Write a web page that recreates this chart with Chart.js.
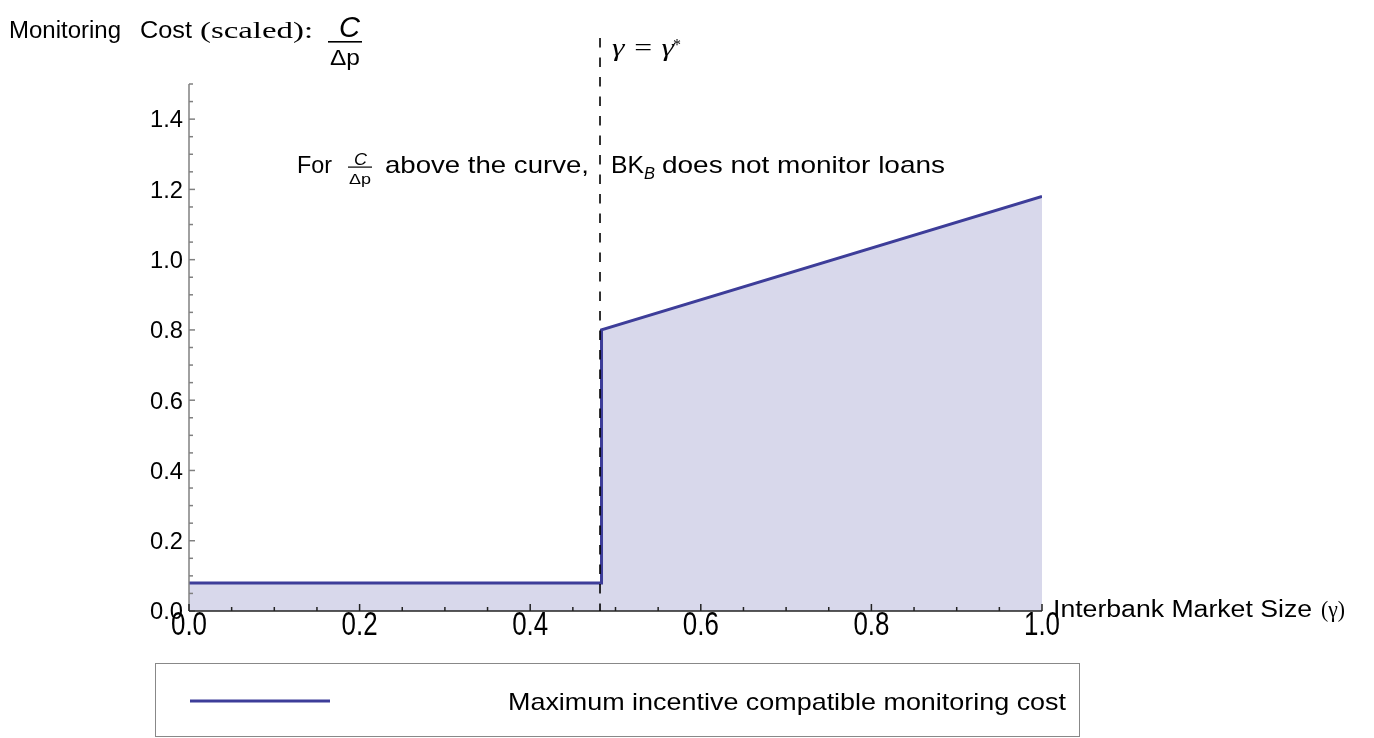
<!DOCTYPE html>
<html>
<head>
<meta charset="utf-8">
<script src="https://cdn.jsdelivr.net/npm/chart.js@4/dist/chart.umd.min.js"></script>
<style>
  body { margin: 0; background: #fff; }
  #wrap { width: 1374px; height: 738px; }
</style>
</head>
<body>
<div id="wrap"><canvas id="myChart" width="1374" height="738"></canvas></div>
<script>
"use strict";

// values
const gammaStar = 0.4836;
const gammaValues = [0, 0.4836, 0.4836, 1.0];
const costValues = [0.08, 0.08, 0.80, 1.18];
const xTickValues = [0, 0.2, 0.4, 0.6, 0.8, 1.0];
const xTickLabels = ["0.0", "0.2", "0.4", "0.6", "0.8", "1.0"];
const yTickValues = [0, 0.2, 0.4, 0.6, 0.8, 1.0, 1.2, 1.4];
const yTickLabels = ["0.0", "0.2", "0.4", "0.6", "0.8", "1.0", "1.2", "1.4"];
const legendLabel = "Maximum incentive compatible monitoring cost";

const SANS = "'Liberation Sans', Arial, sans-serif";
const SERIF = "'Liberation Serif', 'Times New Roman', serif";
const lineColor = "rgb(61,61,153)";
const fillColor = "rgba(61,61,153,0.2)";

// draw text stretched to a given width (Mathematica text is wider than Arial)
function fitText(ctx, text, font, x, baseline, width, sy, align) {
    ctx.save();
    ctx.font = font;
    const w = ctx.measureText(text).width;
    const sx = width ? width / w : 1;
    let ox = 0;
    if (align === "center") ox = -w / 2;
    else if (align === "right") ox = -w;
    ctx.translate(x, baseline);
    ctx.scale(sx, sy || 1);
    ctx.textAlign = "left";
    ctx.textBaseline = "alphabetic";
    ctx.fillStyle = "#000";
    ctx.fillText(text, ox, 0);
    ctx.restore();
}

const points = gammaValues.map((g, i) => ({ x: g, y: costValues[i] }));

const decorations = {
    id: "decorations",
    afterDraw(chart) {
        const ctx = chart.ctx;
        const xs = chart.scales.x;
        const ys = chart.scales.y;
        const x0 = xs.getPixelForValue(0);
        const x1 = xs.getPixelForValue(1);
        const y0 = ys.getPixelForValue(0);
        const yTop = ys.getPixelForValue(1.5);

        ctx.save();
        // y axis
        ctx.strokeStyle = "#808080";
        ctx.lineWidth = 1.5;
        ctx.beginPath();
        ctx.moveTo(x0, y0);
        ctx.lineTo(x0, yTop);
        ctx.stroke();
        for (let k = 0; k <= 30; k++) {
            const v = k * 0.05;
            const py = ys.getPixelForValue(v);
            const len = k % 4 === 0 ? 6 : 4;
            ctx.beginPath();
            ctx.moveTo(x0, py);
            ctx.lineTo(x0 + len, py);
            ctx.stroke();
        }
        // x axis
        ctx.strokeStyle = "#222";
        ctx.beginPath();
        ctx.moveTo(x0, y0);
        ctx.lineTo(x1, y0);
        ctx.stroke();
        for (let k = 0; k <= 20; k++) {
            const v = k * 0.05;
            const px = xs.getPixelForValue(v);
            const len = k % 4 === 0 ? 7 : 4;
            ctx.beginPath();
            ctx.moveTo(px, y0);
            ctx.lineTo(px, y0 - len);
            ctx.stroke();
        }
        ctx.restore();

        // tick labels
        yTickValues.forEach((v, i) => {
            const py = ys.getPixelForValue(v);
            fitText(ctx, yTickLabels[i], "23px " + SANS, x0 - 6, py + 8.3, 33, 1, "right");
        });
        xTickValues.forEach((v, i) => {
            const px = xs.getPixelForValue(v);
            fitText(ctx, xTickLabels[i], "24px " + SANS, px - 18, y0 + 24, 36, 1.35, "left");
        });

        // dashed line at gamma*
        const gx = xs.getPixelForValue(gammaStar) - 1.5;
        ctx.save();
        ctx.strokeStyle = "#000";
        ctx.lineWidth = 1.6;
        ctx.setLineDash([9.5, 10]);
        ctx.beginPath();
        ctx.moveTo(gx, 38);
        ctx.lineTo(gx, y0);
        ctx.stroke();
        ctx.restore();

        // gamma = gamma* label
        fitText(ctx, "\u03B3 = \u03B3", "italic 25px " + SERIF, 612, 56, 62, 1, "left");
        fitText(ctx, "*", "16px " + SERIF, 673, 50, 8, 1, "left");

        // axis titles
        fitText(ctx, "Monitoring", "23px " + SANS, 9, 38, 112, 1, "left");
        fitText(ctx, "Cost", "23px " + SANS, 140, 38, 52, 1, "left");
        fitText(ctx, "(scaled):", "23px " + SERIF, 200, 38, 113, 1, "left");
        fitText(ctx, "C", "italic 29px " + SANS, 339, 36.5, 21, 1, "left");
        ctx.save();
        ctx.fillStyle = "#000";
        ctx.fillRect(328, 41, 34, 1.6);
        ctx.restore();
        fitText(ctx, "\u0394p", "22px " + SANS, 330, 65, 30, 1, "left");

        fitText(ctx, "Interbank Market Size", "23px " + SANS, 1053, 617, 259, 1, "left");
        fitText(ctx, "(\u03B3)", "23px " + SERIF, 1321, 617, 24, 1, "left");

        // annotation inside the plot
        fitText(ctx, "For", "24px " + SANS, 297, 173, 35, 1, "left");
        fitText(ctx, "C", "italic 16px " + SANS, 354, 165, 13, 1, "left");
        ctx.save();
        ctx.fillStyle = "#000";
        ctx.fillRect(348, 166.5, 24, 1.2);
        ctx.restore();
        fitText(ctx, "\u0394p", "15px " + SANS, 349, 184, 22, 1, "left");
        fitText(ctx, "above the curve,", "24px " + SANS, 385, 173, 204, 1, "left");
        fitText(ctx, "BK", "24px " + SANS, 611, 173, 33, 1, "left");
        fitText(ctx, "B", "italic 16px " + SANS, 644, 179, 11, 1, "left");
        fitText(ctx, "does not monitor loans", "24px " + SANS, 662, 173, 283, 1, "left");

        // legend box
        ctx.save();
        ctx.strokeStyle = "#888";
        ctx.lineWidth = 1;
        ctx.strokeRect(155.5, 663.5, 924, 73);
        ctx.strokeStyle = lineColor;
        ctx.lineWidth = 3;
        ctx.beginPath();
        ctx.moveTo(190, 701);
        ctx.lineTo(330, 701);
        ctx.stroke();
        ctx.restore();
        fitText(ctx, legendLabel, "24px " + SANS, 508, 710, 558, 1, "left");
    }
};

const ctx = document.getElementById("myChart").getContext("2d");
const chart = new Chart(ctx, {
    type: "line",
    data: {
        datasets: [
            {
                label: legendLabel,
                data: points,
                borderColor: lineColor,
                backgroundColor: fillColor,
                borderWidth: 3,
                pointRadius: 0,
                tension: 0,
                fill: "origin"
            }
        ]
    },
    options: {
        responsive: false,
        animation: false,
        layout: { padding: { left: 189, right: 332, top: 84, bottom: 127 } },
        plugins: { legend: { display: false }, tooltip: { enabled: false } },
        scales: {
            x: { type: "linear", min: 0, max: 1, display: false },
            y: { type: "linear", min: 0, max: 1.5, display: false }
        }
    },
    plugins: [decorations]
});
</script>
</body>
</html>
